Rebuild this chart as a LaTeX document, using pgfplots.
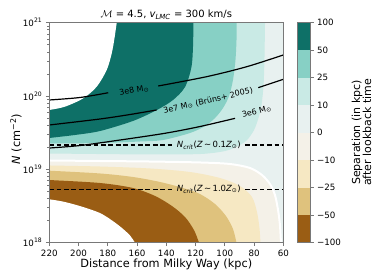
\documentclass[border=0pt]{standalone}
\usepackage{pgfplots}
\pgfplotsset{compat=1.18}
\usepackage{fontspec}
\setmainfont{DejaVu Sans}
\definecolor{cA}{RGB}{14,112,103}
\definecolor{cB}{RGB}{135,208,197}
\definecolor{cC}{RGB}{201,234,229}
\definecolor{cD}{RGB}{232,241,240}
\definecolor{cE}{RGB}{244,241,232}
\definecolor{cF}{RGB}{246,232,195}
\definecolor{cG}{RGB}{223,194,125}
\definecolor{cH}{RGB}{154,93,20}
\definecolor{spine}{RGB}{120,120,120}
\begin{document}
\begin{tikzpicture}
\path[use as bounding box] (0,0) rectangle (374pt,280pt);
\begin{axis}[
  at={(49.3pt,37.3pt)}, anchor=south west, scale only axis,
  width=234pt, height=220pt,
  xmin=60, xmax=220, ymin=18, ymax=21, x dir=reverse,
  axis on top,
  axis line style={spine, line width=0.7pt},
  tick align=outside, xtick pos=bottom, ytick pos=left,
  major tick length=3.5pt, minor tick length=2pt,
  tick style={spine, line width=0.7pt},
  xtick={60,80,...,220},
  ytick={18,19,20,21},
  yticklabels={10\textsuperscript{18},10\textsuperscript{19},10\textsuperscript{20},10\textsuperscript{21}},
  minor ytick={18.301,18.477,18.602,18.699,18.778,18.845,18.903,18.954,19.301,19.477,19.602,19.699,19.778,19.845,19.903,19.954,20.301,20.477,20.602,20.699,20.778,20.845,20.903,20.954},
  ticklabel style={font=\fontsize{8.7}{10}\selectfont},
  /pgf/number format/assume math mode=true,
]
% background 0..10
\addplot[fill=cD, draw=none] coordinates {(232,17.7) (50,17.7) (50,21.3) (232,21.3)};
% below zero
\addplot[fill=cE, draw=none, smooth, tension=0.5] coordinates {(228,19.123) (220,19.121) (185.3,19.114) (151.1,19.107) (117.0,19.094) (96.4,19.073) (82.8,19.019) (74.6,18.923) (69.1,18.800) (65.7,18.650) (63.6,18.446) (62.3,18.241) (61.6,18.0) (61.3,17.9) (232,17.9)};
\addplot[fill=cF, draw=none, smooth, tension=0.5] coordinates {(228,19.057) (220,19.053) (185.3,19.039) (151.1,19.012) (123.8,18.964) (103.3,18.882) (89.6,18.773) (81.4,18.623) (78.0,18.419) (76.3,18.200) (75.6,18.0) (75.25,17.9) (232,17.9)};
\addplot[fill=cG, draw=none, smooth, tension=0.5] coordinates {(228,18.99) (220,18.982) (185.3,18.944) (162.8,18.896) (144.3,18.828) (128.6,18.746) (117.0,18.664) (106.7,18.528) (99.2,18.364) (94.4,18.187) (92.0,18.0) (90.7,17.9) (232,17.9)};
\addplot[fill=cH, draw=none, smooth, tension=0.5] coordinates {(228,18.865) (220,18.855) (185.3,18.814) (162.8,18.746) (147.7,18.637) (136.1,18.500) (127.2,18.350) (121.1,18.173) (117.6,18.0) (115.6,17.9) (232,17.9)};
\addplot[fill=white, draw=none, smooth, tension=0.5] coordinates {(228,18.61) (220,18.592) (209.3,18.555) (197.0,18.487) (185.3,18.404) (177.1,18.303) (170.3,18.200) (164.8,18.098) (161.4,18.0) (158,17.9) (232,17.9)};
% above zero
\addplot[fill=cC, draw=none, smooth, tension=0.5] coordinates {(228,19.217) (220,19.216) (185.3,19.209) (151.1,19.203) (117.0,19.209) (99.9,19.250) (91.0,19.319) (84.8,19.400) (80.0,19.537) (77.0,19.700) (74.9,19.878) (73.5,20.150) (72.9,20.491) (72.5,21) (72.42,21.1) (232,21.1)};
\addplot[fill=cB, draw=none, smooth, tension=0.5] coordinates {(228,19.352) (220,19.353) (185.3,19.359) (158.0,19.380) (142.3,19.400) (123.8,19.496) (113.5,19.591) (106.7,19.700) (101.2,19.837) (97.1,20.0) (94.4,20.219) (92.7,20.491) (92.0,20.764) (91.9,21) (91.86,21.1) (232,21.1)};
\addplot[fill=cA, draw=none, smooth, tension=0.5] coordinates {(228,19.41) (220,19.428) (202.4,19.469) (185.3,19.523) (162.8,19.660) (146.4,19.810) (135.4,19.946) (127.2,20.123) (122.8,20.396) (121.7,20.696) (121.5,21) (121.43,21.1) (232,21.1)};
\addplot[fill=white, draw=none, smooth, tension=0.5] coordinates {(228,19.79) (220,19.810) (209.3,19.855) (196.75,19.969) (187.6,20.127) (180.75,20.355) (177.3,20.583) (175.4,20.791) (173.9,21) (173.2,21.1) (232,21.1)};
% zero contour
\addplot[white, line width=2pt, smooth, tension=0.5] coordinates {(220,19.121) (185.3,19.114) (151.1,19.107) (117.0,19.094) (96.4,19.073) (82.8,19.019) (74.6,18.923) (69.1,18.800) (65.7,18.650) (63.6,18.446) (62.3,18.241) (61.6,18.0)};
% mass lines
\addplot[black, line width=1.2pt, smooth] coordinates {(220,19.946) (199.0,19.980) (179.7,20.045)};
\addplot[black, line width=1.2pt, smooth] coordinates {(145.5,20.137) (112.4,20.264) (85.0,20.400) (60,20.560)};
\addplot[black, line width=1.2pt, smooth] coordinates {(220,19.605) (185.3,19.687) (164.8,19.748) (146.6,19.810)};
\addplot[black, line width=1.2pt, smooth] coordinates {(77.1,20.114) (60,20.228)};
\addplot[black, line width=1.2pt, smooth] coordinates {(220,19.291) (199.0,19.325) (171.7,19.400) (140.9,19.492) (117.0,19.584) (93.0,19.696)};
% critical column densities
\addplot[black, line width=1.1pt, dash pattern=on 4.7pt off 2.7pt] coordinates {(220,19.332) (135.4,19.332)};
\addplot[black, line width=1.1pt, dash pattern=on 4.7pt off 2.7pt] coordinates {(86.2,19.332) (60,19.332)};
\addplot[black, line width=1.1pt, dash pattern=on 4.7pt off 2.7pt] coordinates {(220,18.728) (135.4,18.728)};
\addplot[black, line width=1.1pt, dash pattern=on 4.7pt off 2.7pt] coordinates {(86.2,18.728) (60,18.728)};
\node[font=\fontsize{8}{9}\selectfont, rotate=10, inner sep=0pt] at (axis cs:161.9,20.073) {3e8 M\textsubscript{⊙}};
\node[font=\fontsize{8}{9}\selectfont, rotate=13, inner sep=0pt] at (axis cs:111.3,19.936) {3e7 M\textsubscript{⊙} (Brüns+ 2005)};
\node[font=\fontsize{8}{9}\selectfont, rotate=15, inner sep=0pt] at (axis cs:78.2,19.786) {3e6 M\textsubscript{⊙}};
\node[font=\fontsize{8.5}{9}\selectfont, inner sep=0pt] at (axis cs:110.9,19.332) {{\itshape N}\textsubscript{\itshape crit}({\itshape Z}\,∼\,0.1{\itshape Z}\textsubscript{⊙})};
\node[font=\fontsize{8.5}{9}\selectfont, inner sep=0pt] at (axis cs:110.9,18.728) {{\itshape N}\textsubscript{\itshape crit}({\itshape Z}\,∼\,1.0{\itshape Z}\textsubscript{⊙})};
\end{axis}
% colorbar
\begin{axis}[
  at={(297.3pt,37.3pt)}, anchor=south west, scale only axis,
  width=12.7pt, height=220pt,
  xmin=0, xmax=1, ymin=0, ymax=8,
  axis on top,
  axis line style={spine, line width=0.7pt},
  xtick=\empty, ytick={0,1,...,8},
  yticklabels={−100,−50,−25,−10,0,10,25,50,100},
  yticklabel pos=right, ytick pos=right, tick align=outside,
  major tick length=3.5pt,
  tick style={spine, line width=0.7pt},
  ticklabel style={font=\fontsize{8.7}{10}\selectfont},
]
\addplot[fill=cH, draw=none] coordinates {(0,0) (1,0) (1,1) (0,1)};
\addplot[fill=cG, draw=none] coordinates {(0,1) (1,1) (1,2) (0,2)};
\addplot[fill=cF, draw=none] coordinates {(0,2) (1,2) (1,3) (0,3)};
\addplot[fill=cE, draw=none] coordinates {(0,3) (1,3) (1,4) (0,4)};
\addplot[fill=cD, draw=none] coordinates {(0,4) (1,4) (1,5) (0,5)};
\addplot[fill=cC, draw=none] coordinates {(0,5) (1,5) (1,6) (0,6)};
\addplot[fill=cB, draw=none] coordinates {(0,6) (1,6) (1,7) (0,7)};
\addplot[fill=cA, draw=none] coordinates {(0,7) (1,7) (1,8) (0,8)};
\end{axis}
\node[font=\fontsize{10}{12}\selectfont] at (166.3pt,265.3pt) {$\mathcal{M}$ = 4.5, {\itshape v}\textsubscript{\itshape LMC} = 300 km/s};
\node[font=\fontsize{11.3}{13}\selectfont] at (166.3pt,15.5pt) {Distance from Milky Way (kpc)};
\node[font=\fontsize{11.3}{13}\selectfont, rotate=90] at (16pt,141pt) {{\itshape N} (cm\textsuperscript{−2})};
\node[font=\fontsize{11}{11}\selectfont, rotate=90, align=center, inner sep=0pt] at (361.5pt,147.5pt) {Separation (in kpc)\\after lookback time};
\end{tikzpicture}
\end{document}
